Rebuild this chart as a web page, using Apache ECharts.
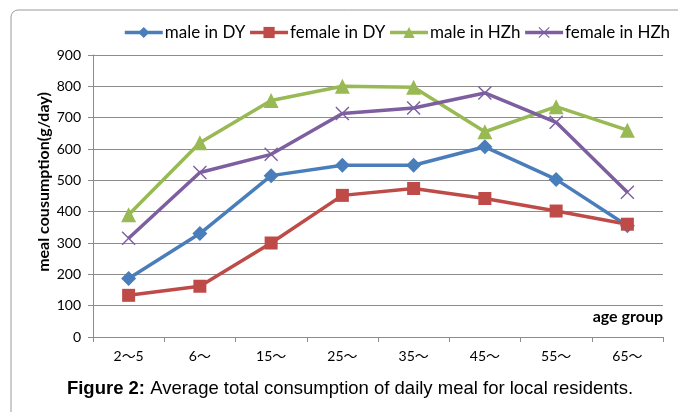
<!DOCTYPE html>
<html>
<head>
<meta charset="utf-8">
<script src="https://cdn.jsdelivr.net/npm/echarts@6/dist/echarts.min.js"></script>
<style>
  html, body { margin: 0; padding: 0; background: #fff; }
  #chart { width: 678px; height: 412px; }
</style>
</head>
<body>
<div id="chart"></div>
<script>
// data
const ageGroups = ["2～5", "6～", "15～", "25～", "35～", "45～", "55～", "65～"];
const maleDY = [187, 330, 515, 548, 548, 607, 503, 355];
const femaleDY = [133, 162, 300, 452, 474, 442, 402, 360];
const maleHZh = [390, 620, 755, 800, 797, 655, 735, 660];
const femaleHZh = [315, 525, 583, 713, 731, 779, 685, 462];
const yTicks = [0, 100, 200, 300, 400, 500, 600, 700, 800, 900];

const font = 'Lato, "Noto Sans CJK SC", sans-serif';
const crossPath =
  "path://M0,1L1,0L7,6L13,0L14,1L8,7L14,13L13,14L7,8L1,14L0,13L6,7Z";

function mkSeries(name, data, color, symbol, size) {
  return {
    name: name,
    type: "line",
    data: data,
    symbol: symbol,
    symbolSize: size,
    lineStyle: { color: color, width: 3.5 },
    itemStyle: { color: color },
    z: 3,
  };
}

const chart = echarts.init(document.getElementById("chart"), null, { renderer: "canvas" });
chart.setOption({
  animation: false,
  textStyle: { fontFamily: font },
  legend: {
    top: 24,
    left: 123,
    width: 640,
    padding: 0,
    itemWidth: 38,
    itemHeight: 14,
    itemGap: 3,
    lineStyle: { width: 3.5 },
    textStyle: { fontSize: 17, color: "#000", fontFamily: font, padding: [0, 0, 0, -3] },
    data: ["male in DY", "female in DY", "male in HZh", "female in HZh"],
  },
  grid: { left: 93, right: 15, top: 55, bottom: 75 },
  xAxis: {
    type: "category",
    data: ageGroups,
    boundaryGap: true,
    axisLine: { lineStyle: { color: "#8c8c8c", width: 1 } },
    axisTick: { show: true, length: 5, lineStyle: { color: "#8c8c8c" } },
    axisLabel: { color: "#000", fontSize: 14, margin: 12, fontFamily: font },
  },
  yAxis: {
    type: "value",
    min: yTicks[0],
    max: yTicks[yTicks.length - 1],
    interval: 100,
    axisLine: { show: true, lineStyle: { color: "#8c8c8c", width: 1 } },
    axisTick: { show: true, length: 5, lineStyle: { color: "#8c8c8c" } },
    axisLabel: { color: "#000", fontSize: 14, margin: 12, fontFamily: font },
    splitLine: { lineStyle: { color: "#8c8c8c", width: 1 } },
  },
  series: [
    mkSeries("male in DY", maleDY, "#4a7ebb", "diamond", 15),
    mkSeries("female in DY", femaleDY, "#be4b48", "rect", 13),
    mkSeries("male in HZh", maleHZh, "#98b954", "triangle", 15),
    mkSeries("female in HZh", femaleHZh, "#7d5fa0", crossPath, 14),
  ],
  graphic: [
    {
      type: "rect",
      shape: { x: 11, y: 10, width: 720, height: 440, r: 7 },
      style: { fill: "none", stroke: "#9a9a9a", lineWidth: 1 },
      silent: true,
      z: -1,
    },
    {
      type: "text",
      x: 44,
      y: 182,
      rotation: Math.PI / 2,
      style: {
        text: "meal cousumption(g/day)",
        fontSize: 16,
        fontWeight: "bold",
        fontFamily: font,
        fill: "#000",
        align: "center",
        verticalAlign: "middle",
      },
    },
    {
      type: "text",
      x: 663,
      y: 317,
      style: {
        text: "age group",
        fontSize: 16,
        fontWeight: "bold",
        fontFamily: font,
        fill: "#000",
        align: "right",
        verticalAlign: "middle",
      },
    },
    {
      type: "text",
      x: 350,
      y: 389,
      style: {
        text: "{b|Figure 2:} Average total consumption of daily meal for local residents.",
        fontSize: 18.5,
        fontFamily: '"Liberation Sans", Arial, sans-serif',
        fill: "#000",
        align: "center",
        verticalAlign: "middle",
        rich: {
          b: {
            fontSize: 18.5,
            fontWeight: "bold",
            fontFamily: '"Liberation Sans", Arial, sans-serif',
            fill: "#000",
          },
        },
      },
    },
  ],
});
</script>
</body>
</html>
